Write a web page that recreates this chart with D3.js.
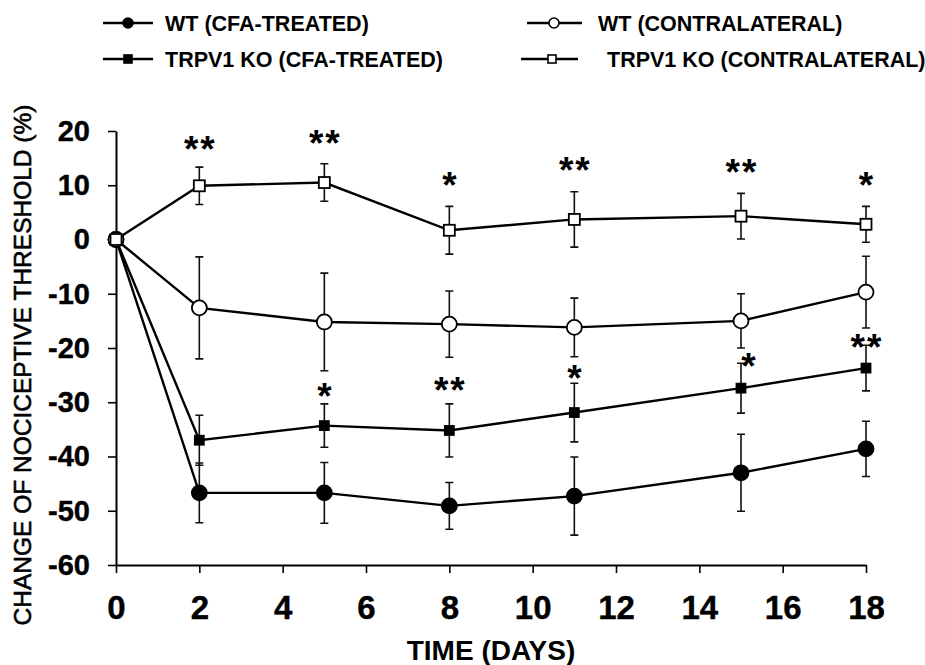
<!DOCTYPE html>
<html>
<head>
<meta charset="utf-8">
<script src="https://cdn.jsdelivr.net/npm/d3@7/dist/d3.min.js"></script>
<style>
  body { margin: 0; background: #fff; }
  svg { display: block; font-family: "Liberation Sans", Arial, sans-serif; }
</style>
</head>
<body>
<div id="chart"></div>
<script>
const days = [0, 2, 5, 8, 11, 15, 18];

const wtCfa = [0, -46.7, -46.7, -49.1, -47.3, -43.0, -38.6];
const wtCfaErr = [0, 5.5, 5.6, 4.3, 7.2, 7.1, 5.1];
const koCfa = [0, -37.0, -34.3, -35.2, -31.9, -27.4, -23.7];
const koCfaErr = [0, 4.6, 4.0, 4.9, 5.4, 4.6, 4.2];
const wtContra = [0, -12.6, -15.2, -15.6, -16.2, -15.0, -9.7];
const wtContraErr = [0, 9.4, 9.0, 6.1, 5.4, 5.0, 6.6];
const koContra = [0, 9.9, 10.5, 1.7, 3.7, 4.3, 2.8];
const koContraErr = [0, 3.45, 3.45, 4.4, 5.1, 4.2, 3.3];

// significance marks: label and the value they sit at
const koContraSig = ['', '**', '**', '*', '**', '**', '*'];
const koContraSigY = [0, 18.2, 19.3, 11.5, 14.3, 13.9, 11.5];
const koCfaSig = ['', '', '*', '**', '*', '*', '**'];
const koCfaSigY = [0, 0, -27.4, -26.3, -24.1, -21.8, -18.3];
const koCfaSigDx = [0, 0, 0, 0, 0, 0.18, 0];

const xTicks = [0, 2, 4, 6, 8, 10, 12, 14, 16, 18];
const yTicks = [20, 10, 0, -10, -20, -30, -40, -50, -60];

const legendNames = ['WT (CFA-TREATED)', 'WT (CONTRALATERAL)', 'TRPV1 KO (CFA-TREATED)', 'TRPV1 KO (CONTRALATERAL)'];

const w = 925, h = 665;
const svg = d3.select('#chart').append('svg')
  .attr('width', w)
  .attr('height', h);

const xScale = d3.scaleLinear().domain([0, 18]).range([116, 866]);
const yScale = d3.scaleLinear().domain([-60, 20]).range([565, 131]);

const xAxis = d3.axisBottom(xScale).tickValues(xTicks).tickSize(8).tickSizeOuter(0).tickPadding(23)
  .tickFormat(d => String(d));
const yAxis = d3.axisLeft(yScale).tickValues(yTicks).tickSize(8).tickSizeOuter(0).tickPadding(18)
  .tickFormat(d => String(d));

const gx = svg.append('g')
  .attr('transform', `translate(0, ${yScale(-60)})`)
  .call(xAxis);
gx.select('.domain').attr('stroke-width', 2.2);
gx.selectAll('.tick line').attr('stroke-width', 1.6);
gx.selectAll('.tick text')
  .attr('font-size', 33)
  .attr('font-weight', 'bold')
  .attr('fill', '#000')
  .attr('stroke', '#000')
  .attr('stroke-width', 0.4);

const gy = svg.append('g')
  .attr('transform', `translate(${xScale(0)}, 0)`)
  .call(yAxis);
gy.select('.domain').attr('stroke-width', 2);
gy.selectAll('.tick line').attr('stroke-width', 1.6);
gy.selectAll('.tick text')
  .attr('font-size', 29)
  .attr('font-weight', 'bold')
  .attr('fill', '#000')
  .attr('stroke', '#000')
  .attr('stroke-width', 0.4);

svg.append('text')
  .attr('x', 491)
  .attr('y', 660)
  .attr('text-anchor', 'middle')
  .attr('font-size', 28)
  .attr('font-weight', 'bold')
  .text('TIME (DAYS)');

svg.append('text')
  .attr('transform', 'translate(31, 365) rotate(-90)')
  .attr('text-anchor', 'middle')
  .attr('font-size', 24.5)
  .attr('stroke', '#000')
  .attr('stroke-width', 0.6)
  .text('CHANGE OF NOCICEPTIVE THRESHOLD (%)');

const series = [
  { vals: wtCfa, err: wtCfaErr, marker: 'circle', fill: '#000' },
  { vals: koCfa, err: koCfaErr, marker: 'square', fill: '#000' },
  { vals: wtContra, err: wtContraErr, marker: 'circle', fill: '#fff' },
  { vals: koContra, err: koContraErr, marker: 'square', fill: '#fff' }
];

const line = d3.line()
  .x(d => xScale(d[0]))
  .y(d => yScale(d[1]));

series.forEach(s => {
  const pts = days.map((d, i) => [d, s.vals[i], s.err[i]]);
  const g = svg.append('g');

  pts.filter(p => p[2] > 0).forEach(p => {
    const x = xScale(p[0]);
    const y1 = yScale(p[1] + p[2]);
    const y2 = yScale(p[1] - p[2]);
    g.append('path')
      .attr('d', `M${x},${y1}V${y2}M${x - 4},${y1}H${x + 4}M${x - 4},${y2}H${x + 4}`)
      .attr('stroke', '#111')
      .attr('stroke-width', 1.6)
      .attr('fill', 'none');
  });

  g.append('path')
    .datum(pts)
    .attr('d', line)
    .attr('fill', 'none')
    .attr('stroke', '#000')
    .attr('stroke-width', 2.4);

  if (s.marker === 'circle') {
    g.selectAll('circle')
      .data(pts)
      .enter()
      .append('circle')
      .attr('cx', d => xScale(d[0]))
      .attr('cy', d => yScale(d[1]))
      .attr('r', 7.5)
      .attr('fill', s.fill)
      .attr('stroke', '#000')
      .attr('stroke-width', 1.8);
  } else {
    const side = s.fill === '#000' ? 9 : 11;
    g.selectAll('rect')
      .data(pts)
      .enter()
      .append('rect')
      .attr('x', d => xScale(d[0]) - side / 2)
      .attr('y', d => yScale(d[1]) - side / 2)
      .attr('width', side)
      .attr('height', side)
      .attr('fill', s.fill)
      .attr('stroke', '#000')
      .attr('stroke-width', 1.8);
  }
});

// asterisks
function stars(labels, ys, dxs) {
  svg.append('g').selectAll('text')
    .data(days.map((d, i) => ({ d: d + (dxs ? dxs[i] : 0), s: labels[i], v: ys[i] })).filter(o => o.s))
    .enter()
    .append('text')
    .attr('x', o => xScale(o.d))
    .attr('y', o => yScale(o.v) + 21)
    .attr('text-anchor', 'middle')
    .attr('font-size', 37)
    .attr('font-weight', 'bold')
    .attr('letter-spacing', o => o.s.length > 1 ? 2 : 0)
    .attr('dx', o => o.s.length > 1 ? 1 : 0)
    .text(o => o.s);
}
stars(koContraSig, koContraSigY);
stars(koCfaSig, koCfaSigY, koCfaSigDx);

// legend
const legendPos = [
  { x1: 103, x2: 153, mx: 128, tx: 165, y: 23 },
  { x1: 527, x2: 582, mx: 554, tx: 598, y: 23 },
  { x1: 103, x2: 153, mx: 128, tx: 165, y: 59 },
  { x1: 521, x2: 578, mx: 552, tx: 607, y: 59 }
];
const legendSeries = [series[0], series[2], series[1], series[3]];

const legend = svg.append('g');
legendNames.forEach((name, i) => {
  const p = legendPos[i];
  const s = legendSeries[i];
  const g = legend.append('g');
  g.append('line')
    .attr('x1', p.x1).attr('x2', p.x2)
    .attr('y1', p.y).attr('y2', p.y)
    .attr('stroke', '#000')
    .attr('stroke-width', 2.4);
  if (s.marker === 'circle') {
    g.append('circle')
      .attr('cx', p.mx).attr('cy', p.y)
      .attr('r', 5)
      .attr('fill', s.fill)
      .attr('stroke', '#000')
      .attr('stroke-width', 1.6);
  } else {
    g.append('rect')
      .attr('x', p.mx - 4).attr('y', p.y - 4)
      .attr('width', 8).attr('height', 8)
      .attr('fill', s.fill)
      .attr('stroke', '#000')
      .attr('stroke-width', 1.6);
  }
  g.append('text')
    .attr('x', p.tx)
    .attr('y', p.y + 7.5)
    .attr('font-size', 21.5)
    .attr('font-weight', 'bold')
    .text(name);
});
</script>
</body>
</html>
